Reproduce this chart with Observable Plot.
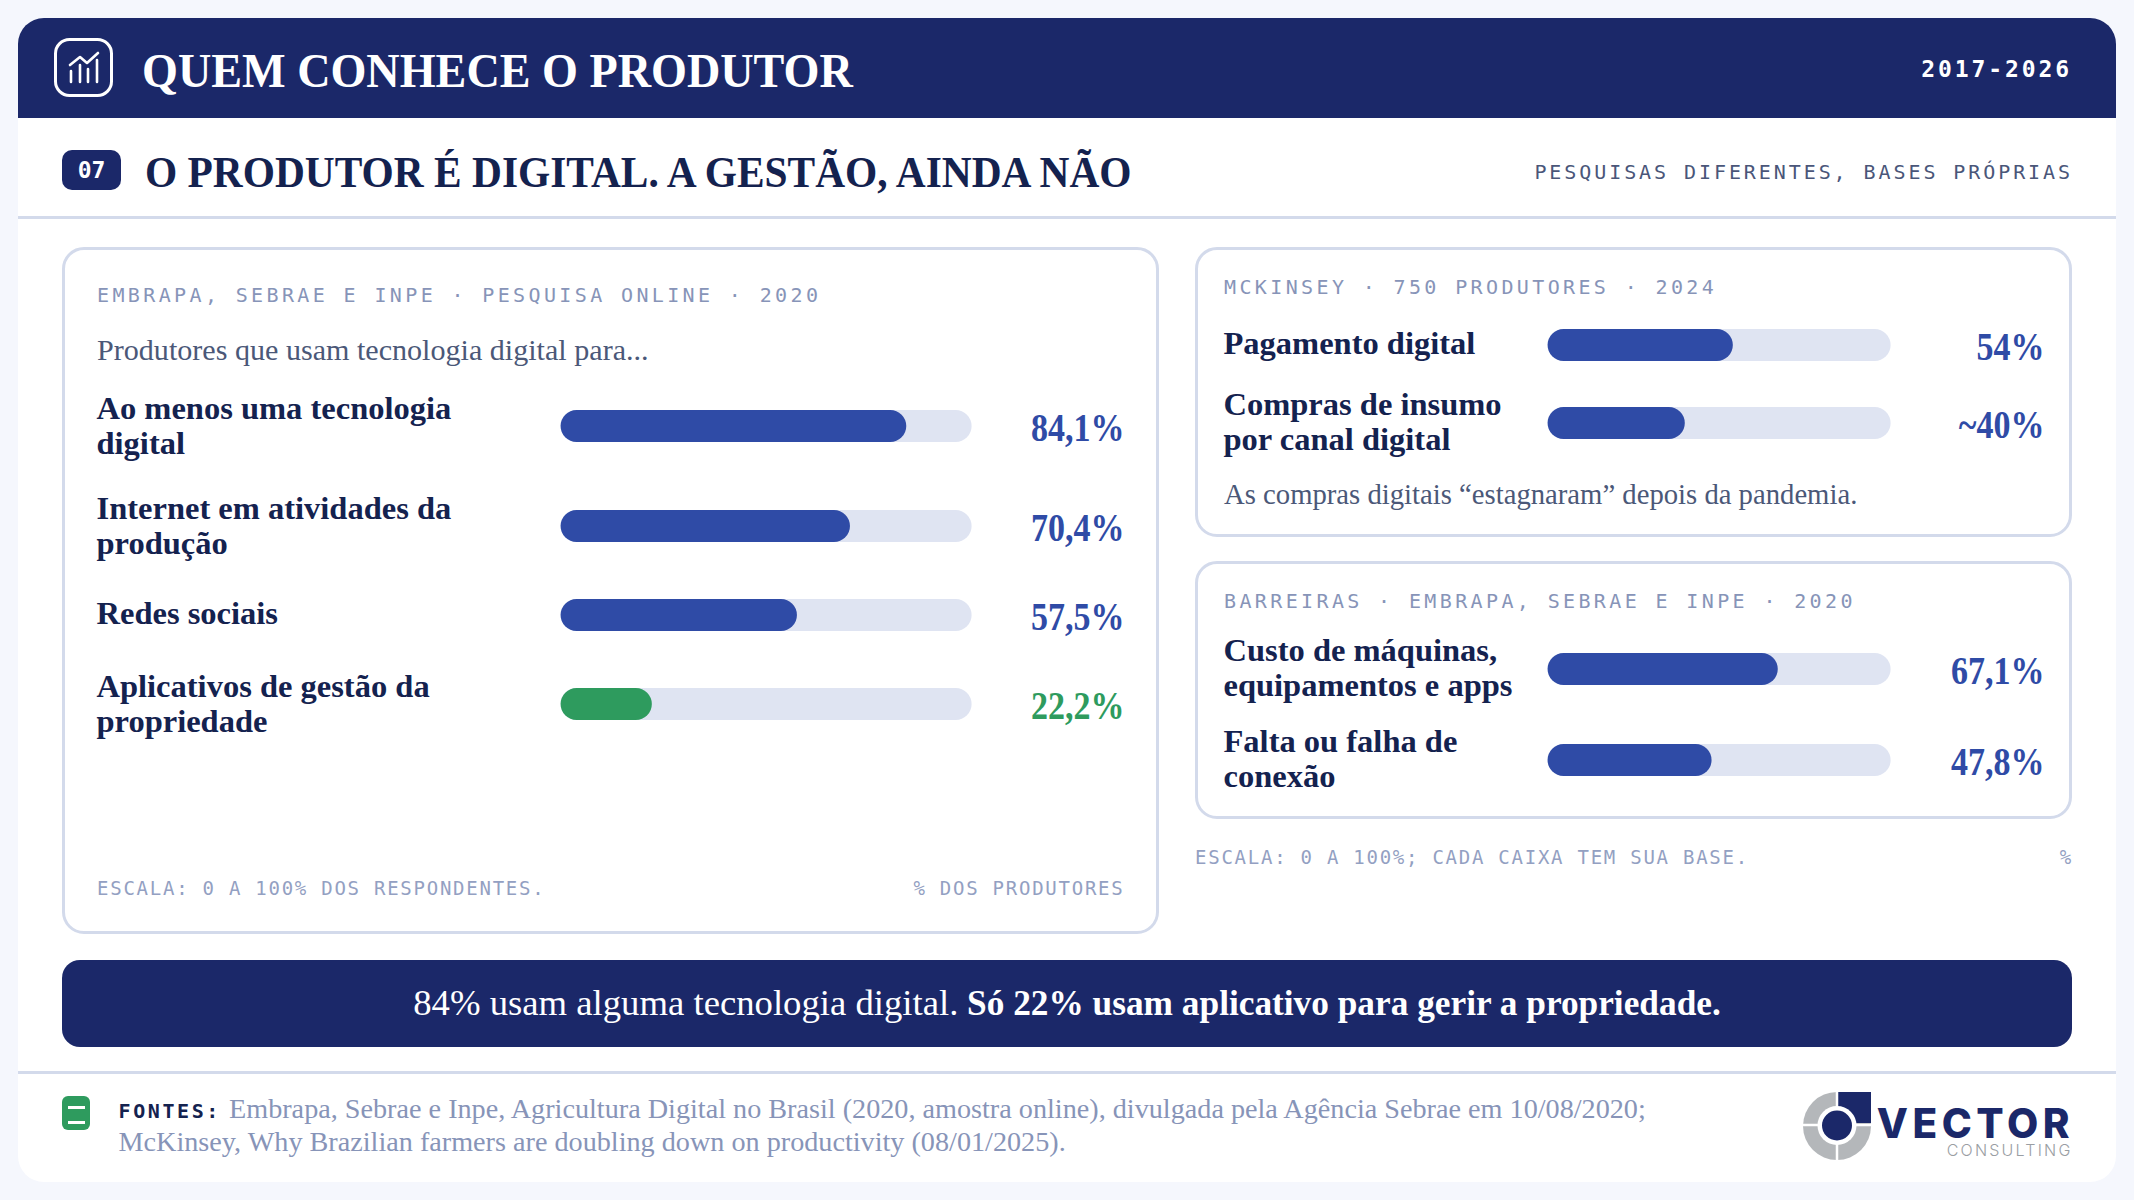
<!DOCTYPE html>
<html lang="pt-BR"><head><meta charset="utf-8">
<script src="https://cdn.jsdelivr.net/npm/d3@7"></script>
<script src="https://cdn.jsdelivr.net/npm/@observablehq/plot@0.6"></script>
<style>
html,body{margin:0;padding:0;background:#f5f7fd;}
#page{position:relative;width:2134px;height:1200px;overflow:hidden;background:#f5f7fd;}
.box{position:absolute;box-sizing:border-box;}
.t{position:absolute;white-space:pre;line-height:1;}
.display{font-family:"Liberation Serif",serif;font-weight:700;transform-origin:left bottom;}
.body{font-family:"Liberation Serif",serif;}
.mono{font-family:"DejaVu Sans Mono",monospace;}
svg{overflow:visible;background:transparent;}
</style></head><body><div id="page"></div>
<script>
// ---------- data ----------
const onlineLabels = ["Ao menos uma tecnologia\ndigital","Internet em atividades da\nprodução","Redes sociais","Aplicativos de gestão da\npropriedade"];
const onlineValues = [84.1,70.4,57.5,22.2];
const onlineTexts  = ["84,1%","70,4%","57,5%","22,2%"];
const onlineColors = ["#2f4ba6","#2f4ba6","#2f4ba6","#2e9b5e"];
const mckLabels = ["Pagamento digital","Compras de insumo\npor canal digital"];
const mckValues = [54,40];
const mckTexts  = ["54%","~40%"];
const barrierLabels = ["Custo de máquinas,\nequipamentos e apps","Falta ou falha de\nconexão"];
const barrierValues = [67.1,47.8];
const barrierTexts  = ["67,1%","47,8%"];

const navy="#1b2869", rule="#d3daeb", mute="#8794b8", ink="#14224f", track="#dfe4f2";
const page=document.getElementById("page");

function box(x,y,w,h,css){const d=document.createElement("div");d.className="box";
  d.style.cssText=`left:${x}px;top:${y}px;width:${w}px;height:${h}px;${css}`;page.appendChild(d);return d;}
// text placed by baseline; anchor "start" or "end"
function put(html,x,base,cls,css,anchor="start"){
  const s=document.createElement("span");s.className="t "+cls;s.style.cssText=css;s.innerHTML=html;
  const m=document.createElement("span");m.style.cssText="display:inline-block;width:0;height:0;";s.appendChild(m);
  page.appendChild(s);
  s.style.top="0px";
  const b=m.getBoundingClientRect().bottom-page.getBoundingClientRect().top;
  s.style.top=(base-b)+"px";
  if(anchor==="end") s.style.right=(2134-x)+"px"; else s.style.left=x+"px";
  return s;
}

// ---------- frame ----------
box(18,18,2098,1164,"background:#fff;border-radius:26px;");
box(18,18,2098,100,`background:${navy};border-radius:26px 26px 0 0;`);
box(18,216,2098,3,`background:${rule};`);
box(18,1071,2098,3,`background:${rule};`);
box(62,247,1097,687,`border:3px solid ${rule};border-radius:22px;`);
box(1195,247,877,290,`border:3px solid ${rule};border-radius:22px;`);
box(1195,561,877,258,`border:3px solid ${rule};border-radius:22px;`);
box(62,960,2010,87,`background:${navy};border-radius:18px;`);
box(62,150,59,40,`background:${navy};border-radius:10px;`);
box(62,1096,28,34,"background:#2e9b5e;border-radius:6px;");
box(68,1106,17,3,"background:#fff;");
box(68,1121,17,3,"background:#fff;");

// header icon
const icon=document.createElementNS("http://www.w3.org/2000/svg","svg");
icon.setAttribute("width",59);icon.setAttribute("height",59);icon.setAttribute("viewBox","54 38 59 59");
icon.style.cssText="position:absolute;left:54px;top:38px;";
icon.innerHTML=`<g fill="none" stroke="#fff" stroke-linecap="round" stroke-linejoin="round">
<rect x="55.5" y="39.5" width="56" height="56" rx="14" stroke-width="3"/>
<path d="M71 82V71M80 82V65M88 82V69M97 82V60" stroke-width="2.6"/>
<path d="M70 65L80 57L87 63L98 53" stroke-width="2.6"/></g>`;
page.appendChild(icon);

// logo
const logo=document.createElementNS("http://www.w3.org/2000/svg","svg");
logo.setAttribute("width",80);logo.setAttribute("height",80);logo.setAttribute("viewBox","1800 1088 80 80");
logo.style.cssText="position:absolute;left:1800px;top:1088px;";
logo.innerHTML=`<circle cx="1837" cy="1126" r="34" fill="#b4b7ba"/>
<rect x="1838" y="1092" width="33" height="31" fill="${navy}"/>
<path d="M1803 1125H1871M1837 1092V1160" stroke="#fff" stroke-width="2.5"/>
<circle cx="1837" cy="1125.5" r="19.5" fill="#fff"/><circle cx="1837" cy="1125.5" r="15" fill="${navy}"/>`;
page.appendChild(logo);

// ---------- texts ----------
const white="color:#fff;";
put("QUEM CONHECE O PRODUTOR",142,87,"display",`${white}font-size:49px;transform:scaleX(.942);`);
put("2017-2026",2072,77,"mono",`${white}font-size:23px;font-weight:700;letter-spacing:2.9px;`,"end");
put("07",91.5,178,"mono",`${white}font-size:23px;font-weight:700;transform:translateX(-50%);`);
put("O PRODUTOR É DIGITAL. A GESTÃO, AINDA NÃO",145,186.5,"display",`color:${ink};font-size:45px;transform:scaleX(.92);`);
put("PESQUISAS DIFERENTES, BASES PRÓPRIAS",2073,179,"mono",`color:#4a5679;font-size:20px;letter-spacing:2.92px;`,"end");

const head=`color:${mute};font-size:20px;letter-spacing:3.37px;`;
put("EMBRAPA, SEBRAE E INPE · PESQUISA ONLINE · 2020",97,301.5,"mono",head);
put("MCKINSEY · 750 PRODUTORES · 2024",1224,293.5,"mono",head);
put("BARREIRAS · EMBRAPA, SEBRAE E INPE · 2020",1224,607.5,"mono",head);
put("Produtores que usam tecnologia digital para...",97,360,"body",`color:#4b5878;font-size:30.1px;`);
put("As compras digitais “estagnaram” depois da pandemia.",1224,504,"body",`color:#4b5878;font-size:28.7px;`);

const foot=`color:#93a0c2;font-size:19px;letter-spacing:1.75px;`;
put("ESCALA: 0 A 100% DOS RESPONDENTES.",97,895,"mono",foot);
put("% DOS PRODUTORES",1124.5,895,"mono",foot,"end");
put("ESCALA: 0 A 100%; CADA CAIXA TEM SUA BASE.",1195,864,"mono",foot);
put("%",2059.8,864,"mono",foot);

put('<span style="font-size:36.7px">84% usam alguma tecnologia digital.</span> <b style="font-size:35.3px">Só 22% usam aplicativo para gerir a propriedade.</b>',1067,1014.5,"body",`${white}font-size:35px;transform:translateX(-50%);`);

put("FONTES:",118.5,1118,"mono",`color:${ink};font-size:20px;font-weight:700;letter-spacing:2.6px;`);
put("Embrapa, Sebrae e Inpe, Agricultura Digital no Brasil (2020, amostra online), divulgada pela Agência Sebrae em 10/08/2020;",229,1118,"body",`color:${mute};font-size:28.2px;`);
put("McKinsey, Why Brazilian farmers are doubling down on productivity (08/01/2025).",118.5,1151,"body",`color:${mute};font-size:28.2px;`);

put("VECTOR",2074,1138,"",`font-family:Inter,sans-serif;font-weight:800;color:${navy};font-size:40.5px;letter-spacing:4.5px;`,"end");
put("CONSULTING",2072.5,1156,"",`font-family:Inter,sans-serif;font-weight:300;color:#9a9ea3;font-size:16px;letter-spacing:2.2px;`,"end");

// ---------- bar rows, drawn with Plot ----------
function row(label,value,text,color,o){
  const pad=34;
  const svg=Plot.plot({
    width:o.right-o.left, height:32+2*pad,
    marginLeft:o.trackX-o.left, marginRight:o.right-o.trackX-o.trackW, marginTop:pad, marginBottom:pad,
    x:{domain:[0,100],axis:null}, y:{axis:null},
    style:{overflow:"visible",background:"transparent"},
    marks:[
      Plot.barX([100],{x1:0,x2:d=>d,fill:track,rx:16}),
      Plot.barX([value],{x1:0,x2:d=>d,fill:color,rx:16}),
      Plot.text([label],{x:0,text:d=>d,frameAnchor:"middle",lineAnchor:"middle",textAnchor:"start",
        dx:-(o.trackX-o.left),dy:label.includes("\n")?o.dyTwo:-2.5,fill:ink,fontSize:o.labelSize,fontWeight:700,
        fontFamily:"Liberation Serif",lineHeight:35/o.labelSize}),
      Plot.text([text],{x:100,text:d=>d,frameAnchor:"middle",lineAnchor:"middle",textAnchor:"end",
        dx:o.right-o.trackX-o.trackW,dy:2,fill:color,fontSize:o.valueSize,fontWeight:700,fontFamily:"Liberation Serif"})
    ]
  });
  svg.style.position="absolute";
  svg.style.left=o.left+"px";
  svg.style.top=(o.top-pad)+"px";
  page.appendChild(svg);
  // reference figures are a narrow display cut: condense the value text
  const texts=svg.querySelectorAll("text"), v=texts[texts.length-1];
  v.setAttribute("textLength",v.getComputedTextLength()*0.85);
  v.setAttribute("lengthAdjust","spacingAndGlyphs");
}
const leftGeom={left:96,trackX:560.6,trackW:411,right:1124,labelSize:32.5,valueSize:40,dyTwo:-1};
const rightGeom={left:1223,trackX:1547.6,trackW:343,right:2044,labelSize:32.5,valueSize:40,dyTwo:-2.2};
const leftTops=[410,510,599,688], mckTops=[329,406.5], barrierTops=[653,743.5];
onlineLabels.forEach((l,i)=>row(l,onlineValues[i],onlineTexts[i],onlineColors[i],{...leftGeom,top:leftTops[i]}));
mckLabels.forEach((l,i)=>row(l,mckValues[i],mckTexts[i],"#2f4ba6",{...rightGeom,top:mckTops[i]}));
barrierLabels.forEach((l,i)=>row(l,barrierValues[i],barrierTexts[i],"#2f4ba6",{...rightGeom,top:barrierTops[i]}));
</script></body></html>
